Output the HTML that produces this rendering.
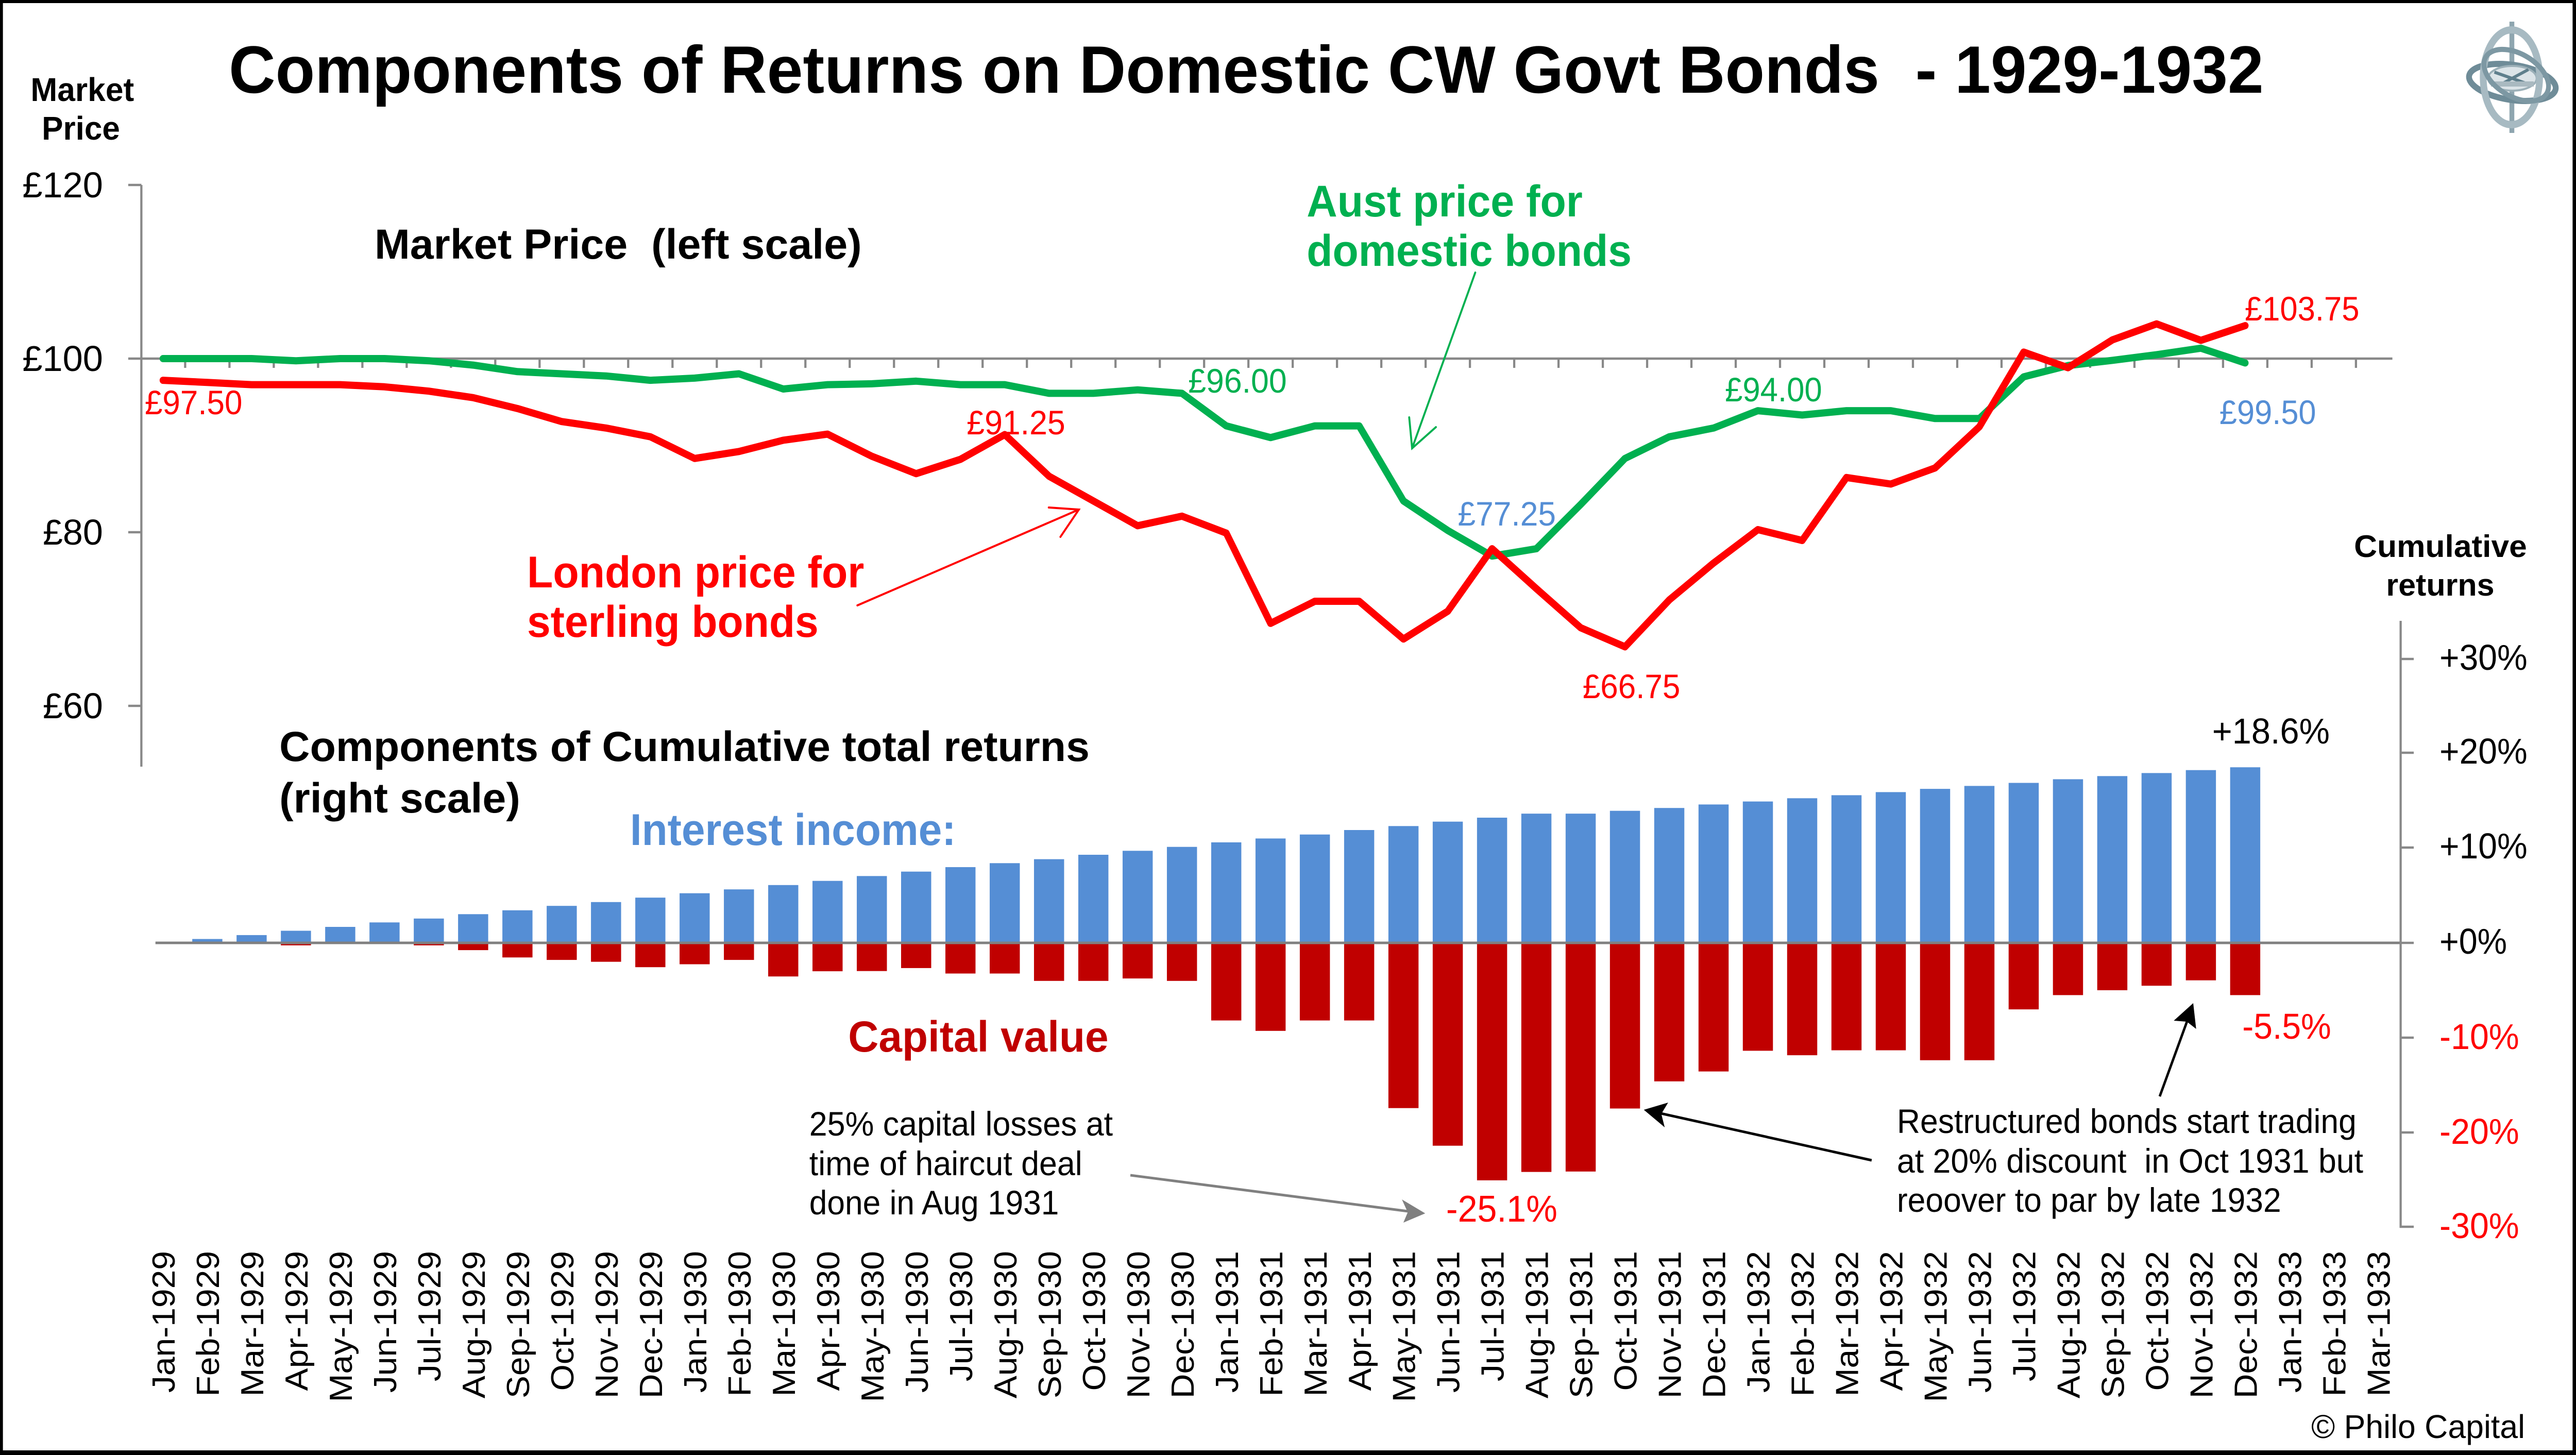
<!DOCTYPE html>
<html><head><meta charset="utf-8">
<style>
html,body{margin:0;padding:0;background:#fff;width:100%;height:100%;overflow:hidden;}
svg{display:block;width:100vw;height:100vh;}
text{font-family:"Liberation Sans",Arial,sans-serif;white-space:pre;}
.b{font-weight:bold;}
.xl{font-size:66px;fill:#000;}
</style></head>
<body>
<svg xmlns="http://www.w3.org/2000/svg" viewBox="0 0 5303 2824" preserveAspectRatio="none" xml:space="preserve">
<rect x="0" y="0" width="5303" height="2824" fill="#fff"/>

<!-- Title -->
<text x="471" y="180" class="b" font-size="130" textLength="4189" lengthAdjust="spacingAndGlyphs">Components of Returns on Domestic CW Govt Bonds  - 1929-1932</text>

<!-- Market Price top-left -->
<text x="63" y="196" class="b" font-size="64" textLength="213" lengthAdjust="spacingAndGlyphs">Market</text>
<text x="86" y="271" class="b" font-size="64" textLength="161" lengthAdjust="spacingAndGlyphs">Price</text>

<!-- Left axis -->
<line x1="291" y1="359" x2="291" y2="1488" stroke="#888" stroke-width="4.5"/>
<path d="M264 359H291M264 696H291M264 1033H291M264 1370H291" stroke="#888" stroke-width="4.5"/>
<text x="212" y="383" font-size="70" text-anchor="end" textLength="166" lengthAdjust="spacingAndGlyphs">£120</text>
<text x="212" y="720" font-size="70" text-anchor="end" textLength="166" lengthAdjust="spacingAndGlyphs">£100</text>
<text x="212" y="1057" font-size="70" text-anchor="end" textLength="124" lengthAdjust="spacingAndGlyphs">£80</text>
<text x="212" y="1394" font-size="70" text-anchor="end" textLength="124" lengthAdjust="spacingAndGlyphs">£60</text>

<!-- £100 axis line with ticks -->
<line x1="291" y1="696" x2="4925" y2="696" stroke="#888" stroke-width="4.5"/>
<path stroke="#888" stroke-width="4.5" d="M381.2 696v18M472.4 696v18M563.6 696v18M654.8 696v18M746 696v18M837.2 696v18M928.4 696v18M1019.6 696v18M1110.8 696v18M1202 696v18M1293.2 696v18M1384.4 696v18M1475.6 696v18M1566.8 696v18M1658 696v18M1749.2 696v18M1840.4 696v18M1931.6 696v18M2022.8 696v18M2114 696v18M2205.2 696v18M2296.4 696v18M2387.6 696v18M2478.8 696v18M2570 696v18M2661.2 696v18M2752.4 696v18M2843.6 696v18M2934.8 696v18M3026 696v18M3117.2 696v18M3208.4 696v18M3299.6 696v18M3390.8 696v18M3482 696v18M3573.2 696v18M3664.4 696v18M3755.6 696v18M3846.8 696v18M3938 696v18M4029.2 696v18M4120.4 696v18M4211.6 696v18M4302.8 696v18M4394 696v18M4485.2 696v18M4576.4 696v18M4667.6 696v18M4758.8 696v18M4850 696v18"/>

<!-- Labels upper -->
<text x="771" y="502" class="b" font-size="82" textLength="1003" lengthAdjust="spacingAndGlyphs">Market Price  (left scale)</text>
<text x="2690" y="420" class="b" font-size="86" fill="#00B050" textLength="568" lengthAdjust="spacingAndGlyphs">Aust price for</text>
<text x="2690" y="516" class="b" font-size="86" fill="#00B050" textLength="669" lengthAdjust="spacingAndGlyphs">domestic bonds</text>
<text x="1085" y="1140" class="b" font-size="86" fill="#FF0000" textLength="694" lengthAdjust="spacingAndGlyphs">London price for</text>
<text x="1085" y="1236" class="b" font-size="86" fill="#FF0000" textLength="600" lengthAdjust="spacingAndGlyphs">sterling bonds</text>

<!-- thin arrows -->
<g fill="none" stroke="#00B050" stroke-width="4" stroke-linecap="round">
<line x1="3037" y1="529" x2="2907" y2="870"/>
<polyline points="2901,810 2907,870 2956,829"/>
</g>
<g fill="none" stroke="#FF0000" stroke-width="4" stroke-linecap="round">
<line x1="1765" y1="1175" x2="2221" y2="989"/>
<polyline points="2159,985 2221,989 2183,1042"/>
</g>

<!-- Bars: blue -->
<g fill="#558ED5">
<rect x="395.8" y="1822.5" width="62" height="7.5"/>
<rect x="487" y="1814.9" width="62" height="15.1"/>
<rect x="578.2" y="1806.5" width="62" height="23.5"/>
<rect x="669.4" y="1799" width="62" height="31"/>
<rect x="760.6" y="1790.3" width="62" height="39.7"/>
<rect x="851.8" y="1782.8" width="62" height="47.2"/>
<rect x="943" y="1774.3" width="62" height="55.7"/>
<rect x="1034.2" y="1766.8" width="62" height="63.2"/>
<rect x="1125.4" y="1758.2" width="62" height="71.8"/>
<rect x="1216.6" y="1750.8" width="62" height="79.2"/>
<rect x="1307.8" y="1742.2" width="62" height="87.8"/>
<rect x="1399" y="1733.7" width="62" height="96.3"/>
<rect x="1490.2" y="1726.2" width="62" height="103.8"/>
<rect x="1581.4" y="1717.8" width="62" height="112.2"/>
<rect x="1672.6" y="1709.7" width="62" height="120.3"/>
<rect x="1763.8" y="1700.3" width="62" height="129.7"/>
<rect x="1855" y="1691.7" width="62" height="138.3"/>
<rect x="1946.2" y="1683" width="62" height="147"/>
<rect x="2037.4" y="1675.3" width="62" height="154.7"/>
<rect x="2128.6" y="1667.6" width="62" height="162.4"/>
<rect x="2219.8" y="1659" width="62" height="171"/>
<rect x="2311" y="1651.3" width="62" height="178.7"/>
<rect x="2402.2" y="1643.7" width="62" height="186.3"/>
<rect x="2493.4" y="1634.9" width="62" height="195.1"/>
<rect x="2584.6" y="1627.4" width="62" height="202.6"/>
<rect x="2675.8" y="1619.7" width="62" height="210.3"/>
<rect x="2767" y="1611" width="62" height="219"/>
<rect x="2858.2" y="1603.3" width="62" height="226.7"/>
<rect x="2949.4" y="1594.7" width="62" height="235.3"/>
<rect x="3040.6" y="1587" width="62" height="243"/>
<rect x="3131.8" y="1579.2" width="62" height="250.8"/>
<rect x="3223" y="1579.2" width="62" height="250.8"/>
<rect x="3314.2" y="1573.7" width="62" height="256.3"/>
<rect x="3405.4" y="1568.2" width="62" height="261.8"/>
<rect x="3496.6" y="1561.4" width="62" height="268.6"/>
<rect x="3587.8" y="1555.6" width="62" height="274.4"/>
<rect x="3679" y="1549.3" width="62" height="280.7"/>
<rect x="3770.2" y="1543.4" width="62" height="286.6"/>
<rect x="3861.4" y="1537.4" width="62" height="292.6"/>
<rect x="3952.6" y="1531.1" width="62" height="298.9"/>
<rect x="4043.8" y="1525.4" width="62" height="304.6"/>
<rect x="4135" y="1519.5" width="62" height="310.5"/>
<rect x="4226.2" y="1512.4" width="62" height="317.6"/>
<rect x="4317.4" y="1506.3" width="62" height="323.7"/>
<rect x="4408.6" y="1500.4" width="62" height="329.6"/>
<rect x="4499.8" y="1494.7" width="62" height="335.3"/>
<rect x="4591" y="1489.2" width="62" height="340.8"/>
</g>
<!-- Bars: red -->
<g fill="#C00000">
<rect x="578.2" y="1830" width="62" height="4.8"/>
<rect x="851.8" y="1830" width="62" height="4.8"/>
<rect x="943" y="1830" width="62" height="14.1"/>
<rect x="1034.2" y="1830" width="62" height="28.3"/>
<rect x="1125.4" y="1830" width="62" height="33.1"/>
<rect x="1216.6" y="1830" width="62" height="36.7"/>
<rect x="1307.8" y="1830" width="62" height="47.2"/>
<rect x="1399" y="1830" width="62" height="41.5"/>
<rect x="1490.2" y="1830" width="62" height="33.1"/>
<rect x="1581.4" y="1830" width="62" height="65.2"/>
<rect x="1672.6" y="1830" width="62" height="55.1"/>
<rect x="1763.8" y="1830" width="62" height="54.7"/>
<rect x="1855" y="1830" width="62" height="48.9"/>
<rect x="1946.2" y="1830" width="62" height="59.5"/>
<rect x="2037.4" y="1830" width="62" height="59.5"/>
<rect x="2128.6" y="1830" width="62" height="73.8"/>
<rect x="2219.8" y="1830" width="62" height="73.8"/>
<rect x="2311" y="1830" width="62" height="69.1"/>
<rect x="2402.2" y="1830" width="62" height="73.8"/>
<rect x="2493.4" y="1830" width="62" height="150.6"/>
<rect x="2584.6" y="1830" width="62" height="170.8"/>
<rect x="2675.8" y="1830" width="62" height="150.6"/>
<rect x="2767" y="1830" width="62" height="150.6"/>
<rect x="2858.2" y="1830" width="62" height="320.7"/>
<rect x="2949.4" y="1830" width="62" height="393.7"/>
<rect x="3040.6" y="1830" width="62" height="460.9"/>
<rect x="3131.8" y="1830" width="62" height="444.6"/>
<rect x="3223" y="1830" width="62" height="443.8"/>
<rect x="3314.2" y="1830" width="62" height="321.5"/>
<rect x="3405.4" y="1830" width="62" height="268.8"/>
<rect x="3496.6" y="1830" width="62" height="249.6"/>
<rect x="3587.8" y="1830" width="62" height="209.4"/>
<rect x="3679" y="1830" width="62" height="218.1"/>
<rect x="3770.2" y="1830" width="62" height="208.5"/>
<rect x="3861.4" y="1830" width="62" height="208.5"/>
<rect x="3952.6" y="1830" width="62" height="227.8"/>
<rect x="4043.8" y="1830" width="62" height="227.8"/>
<rect x="4135" y="1830" width="62" height="129.1"/>
<rect x="4226.2" y="1830" width="62" height="101.4"/>
<rect x="4317.4" y="1830" width="62" height="91.9"/>
<rect x="4408.6" y="1830" width="62" height="83.2"/>
<rect x="4499.8" y="1830" width="62" height="72.7"/>
<rect x="4591" y="1830" width="62" height="101.4"/>
</g>

<!-- zero line -->
<line x1="320" y1="1830" x2="4942" y2="1830" stroke="#808080" stroke-width="5"/>

<!-- Right axis -->
<line x1="4942" y1="1205" x2="4942" y2="2383" stroke="#888" stroke-width="4.5"/>
<path d="M4942 1279H4969M4942 1461H4969M4942 1645H4969M4942 1830H4969M4942 2014H4969M4942 2198H4969M4940 2381H4969" stroke="#888" stroke-width="4.5"/>
<text x="5022" y="1300" font-size="70" textLength="181" lengthAdjust="spacingAndGlyphs">+30%</text>
<text x="5022" y="1482" font-size="70" textLength="181" lengthAdjust="spacingAndGlyphs">+20%</text>
<text x="5022" y="1666" font-size="70" textLength="181" lengthAdjust="spacingAndGlyphs">+10%</text>
<text x="5022" y="1851" font-size="70" textLength="139" lengthAdjust="spacingAndGlyphs">+0%</text>
<text x="5022" y="2036" font-size="70" fill="#FF0000" textLength="164" lengthAdjust="spacingAndGlyphs">-10%</text>
<text x="5022" y="2220" font-size="70" fill="#FF0000" textLength="164" lengthAdjust="spacingAndGlyphs">-20%</text>
<text x="5022" y="2403" font-size="70" fill="#FF0000" textLength="164" lengthAdjust="spacingAndGlyphs">-30%</text>
<text x="4846" y="1081" class="b" font-size="60" textLength="356" lengthAdjust="spacingAndGlyphs">Cumulative</text>
<text x="4912" y="1156" class="b" font-size="60" textLength="223" lengthAdjust="spacingAndGlyphs">returns</text>

<!-- Lines -->
<polyline fill="none" stroke="#00B050" stroke-width="14" stroke-linejoin="round" stroke-linecap="round" points="335.6,696 426.8,696 518,696 609.2,700.2 700.4,696 791.6,696 882.8,700.2 974,708.6 1065.2,721.3 1156.4,725.5 1247.6,729.7 1338.8,738.1 1430,733.9 1521.2,725.5 1612.4,755 1703.6,746.6 1794.8,744.9 1886,739.8 1977.2,746.6 2068.4,746.6 2159.6,763.4 2250.8,763.4 2342,756.7 2433.2,763.4 2524.4,826.6 2615.6,849.3 2706.8,826.6 2798,826.6 2889.2,972.3 2980.4,1029.6 3071.6,1079.3 3162.8,1065 3254,979.1 3345.2,889.8 3436.4,847.7 3527.6,830.8 3618.8,797.1 3710,805.5 3801.2,797.1 3892.4,797.1 3983.6,812.3 4074.8,812.3 4166,731.4 4257.2,709.5 4348.4,699.4 4439.6,688.4 4530.8,675.8 4622,704.4"/>
<polyline fill="none" stroke="#FF0000" stroke-width="14" stroke-linejoin="round" stroke-linecap="round" points="335.6,738.1 426.8,742.3 518,746.6 609.2,746.6 700.4,746.6 791.6,750.8 882.8,759.2 974,771.8 1065.2,792.9 1156.4,818.2 1247.6,830.8 1338.8,847.7 1430,889.8 1521.2,876.3 1612.4,854.4 1703.6,842.6 1794.8,885.6 1886,919.3 1977.2,891.5 2068.4,843.4 2159.6,924.3 2250.8,972.3 2342,1020.4 2433.2,1001.8 2524.4,1034.7 2615.6,1209.9 2706.8,1167 2798,1167 2889.2,1240.3 2980.4,1186.3 3071.6,1065 3162.8,1142.5 3254,1218.4 3345.2,1255.4 3436.4,1164.4 3527.6,1092.8 3618.8,1027.9 3710,1049 3801.2,926.8 3892.4,939.5 3983.6,908.3 4074.8,828.3 4166,683.4 4257.2,713.7 4348.4,659.8 4439.6,628.6 4530.8,660.6 4622,632"/>

<!-- Data labels -->
<text x="298" y="804" font-size="66" fill="#FF0000" textLength="201" lengthAdjust="spacingAndGlyphs">£97.50</text>
<text x="1990" y="843" font-size="66" fill="#FF0000" textLength="203" lengthAdjust="spacingAndGlyphs">£91.25</text>
<text x="2446" y="762" font-size="66" fill="#00B050" textLength="203" lengthAdjust="spacingAndGlyphs">£96.00</text>
<text x="3001" y="1020" font-size="66" fill="#558ED5" textLength="202" lengthAdjust="spacingAndGlyphs">£77.25</text>
<text x="3551" y="779" font-size="66" fill="#00B050" textLength="200" lengthAdjust="spacingAndGlyphs">£94.00</text>
<text x="3258" y="1355" font-size="66" fill="#FF0000" textLength="201" lengthAdjust="spacingAndGlyphs">£66.75</text>
<text x="4621" y="622" font-size="66" fill="#FF0000" textLength="236" lengthAdjust="spacingAndGlyphs">£103.75</text>
<text x="4569" y="823" font-size="66" fill="#558ED5" textLength="199" lengthAdjust="spacingAndGlyphs">£99.50</text>

<!-- Lower labels -->
<text x="575" y="1477" class="b" font-size="82" textLength="1668" lengthAdjust="spacingAndGlyphs">Components of Cumulative total returns</text>
<text x="575" y="1577" class="b" font-size="82" textLength="496" lengthAdjust="spacingAndGlyphs">(right scale)</text>
<text x="1297" y="1640" class="b" font-size="86" fill="#558ED5" textLength="671" lengthAdjust="spacingAndGlyphs">Interest income:</text>
<text x="1746" y="2041" class="b" font-size="84" fill="#C00000" textLength="536" lengthAdjust="spacingAndGlyphs">Capital value</text>
<text x="4554" y="1443" font-size="70" textLength="242" lengthAdjust="spacingAndGlyphs">+18.6%</text>
<text x="4616" y="2016" font-size="70" fill="#FF0000" textLength="183" lengthAdjust="spacingAndGlyphs">-5.5%</text>
<text x="2977" y="2371" font-size="72" fill="#FF0000" textLength="229" lengthAdjust="spacingAndGlyphs">-25.1%</text>

<text x="1666" y="2204" font-size="66" textLength="625" lengthAdjust="spacingAndGlyphs">25% capital losses at</text>
<text x="1666" y="2281" font-size="66" textLength="562" lengthAdjust="spacingAndGlyphs">time of haircut deal</text>
<text x="1666" y="2357" font-size="66" textLength="514" lengthAdjust="spacingAndGlyphs">done in Aug 1931</text>

<text x="3905" y="2199" font-size="66" textLength="946" lengthAdjust="spacingAndGlyphs">Restructured bonds start trading</text>
<text x="3905" y="2276" font-size="66" textLength="960" lengthAdjust="spacingAndGlyphs">at 20% discount  in Oct 1931 but</text>
<text x="3905" y="2352" font-size="66" textLength="791" lengthAdjust="spacingAndGlyphs">reoover to par by late 1932</text>

<!-- annotation arrows -->
<line x1="2327" y1="2281" x2="2915" y2="2353" stroke="#808080" stroke-width="5"/>
<polygon points="2934,2355 2886,2328 2898,2353 2889,2373" fill="#808080"/>
<line x1="3853" y1="2252" x2="3405" y2="2158" stroke="#000" stroke-width="5"/>
<polygon points="3384,2154 3434,2140 3420,2162 3427,2188" fill="#000"/>
<line x1="4446" y1="2128" x2="4509" y2="1965" stroke="#000" stroke-width="5"/>
<polygon points="4515,1947 4521,1997 4502,1983 4475,1981" fill="#000"/>

<!-- X labels -->
<g class="xl" text-anchor="end">
<text transform="translate(359.6,2428) rotate(-90)">Jan-1929</text>
<text transform="translate(450.8,2428) rotate(-90)">Feb-1929</text>
<text transform="translate(542,2428) rotate(-90)">Mar-1929</text>
<text transform="translate(633.2,2428) rotate(-90)">Apr-1929</text>
<text transform="translate(724.4,2428) rotate(-90)">May-1929</text>
<text transform="translate(815.6,2428) rotate(-90)">Jun-1929</text>
<text transform="translate(906.8,2428) rotate(-90)">Jul-1929</text>
<text transform="translate(998,2428) rotate(-90)">Aug-1929</text>
<text transform="translate(1089.2,2428) rotate(-90)">Sep-1929</text>
<text transform="translate(1180.4,2428) rotate(-90)">Oct-1929</text>
<text transform="translate(1271.6,2428) rotate(-90)">Nov-1929</text>
<text transform="translate(1362.8,2428) rotate(-90)">Dec-1929</text>
<text transform="translate(1454,2428) rotate(-90)">Jan-1930</text>
<text transform="translate(1545.2,2428) rotate(-90)">Feb-1930</text>
<text transform="translate(1636.4,2428) rotate(-90)">Mar-1930</text>
<text transform="translate(1727.6,2428) rotate(-90)">Apr-1930</text>
<text transform="translate(1818.8,2428) rotate(-90)">May-1930</text>
<text transform="translate(1910,2428) rotate(-90)">Jun-1930</text>
<text transform="translate(2001.2,2428) rotate(-90)">Jul-1930</text>
<text transform="translate(2092.4,2428) rotate(-90)">Aug-1930</text>
<text transform="translate(2183.6,2428) rotate(-90)">Sep-1930</text>
<text transform="translate(2274.8,2428) rotate(-90)">Oct-1930</text>
<text transform="translate(2366,2428) rotate(-90)">Nov-1930</text>
<text transform="translate(2457.2,2428) rotate(-90)">Dec-1930</text>
<text transform="translate(2548.4,2428) rotate(-90)">Jan-1931</text>
<text transform="translate(2639.6,2428) rotate(-90)">Feb-1931</text>
<text transform="translate(2730.8,2428) rotate(-90)">Mar-1931</text>
<text transform="translate(2822,2428) rotate(-90)">Apr-1931</text>
<text transform="translate(2913.2,2428) rotate(-90)">May-1931</text>
<text transform="translate(3004.4,2428) rotate(-90)">Jun-1931</text>
<text transform="translate(3095.6,2428) rotate(-90)">Jul-1931</text>
<text transform="translate(3186.8,2428) rotate(-90)">Aug-1931</text>
<text transform="translate(3278,2428) rotate(-90)">Sep-1931</text>
<text transform="translate(3369.2,2428) rotate(-90)">Oct-1931</text>
<text transform="translate(3460.4,2428) rotate(-90)">Nov-1931</text>
<text transform="translate(3551.6,2428) rotate(-90)">Dec-1931</text>
<text transform="translate(3642.8,2428) rotate(-90)">Jan-1932</text>
<text transform="translate(3734,2428) rotate(-90)">Feb-1932</text>
<text transform="translate(3825.2,2428) rotate(-90)">Mar-1932</text>
<text transform="translate(3916.4,2428) rotate(-90)">Apr-1932</text>
<text transform="translate(4007.6,2428) rotate(-90)">May-1932</text>
<text transform="translate(4098.8,2428) rotate(-90)">Jun-1932</text>
<text transform="translate(4190,2428) rotate(-90)">Jul-1932</text>
<text transform="translate(4281.2,2428) rotate(-90)">Aug-1932</text>
<text transform="translate(4372.4,2428) rotate(-90)">Sep-1932</text>
<text transform="translate(4463.6,2428) rotate(-90)">Oct-1932</text>
<text transform="translate(4554.8,2428) rotate(-90)">Nov-1932</text>
<text transform="translate(4646,2428) rotate(-90)">Dec-1932</text>
<text transform="translate(4737.2,2428) rotate(-90)">Jan-1933</text>
<text transform="translate(4828.4,2428) rotate(-90)">Feb-1933</text>
<text transform="translate(4919.6,2428) rotate(-90)">Mar-1933</text>
</g>

<text x="4758" y="2791" font-size="64" textLength="440" lengthAdjust="spacingAndGlyphs">© Philo Capital</text>

<!-- Logo -->
<g>
<rect x="5166" y="42" width="10" height="216" fill="#8ea5af"/>
<ellipse cx="5172" cy="160" rx="90" ry="34" transform="rotate(8 5172 160)" fill="none" stroke="#6f8c98" stroke-width="12"/>
<ellipse cx="5172" cy="152" rx="50" ry="24" fill="#dce4e8" stroke="#9cb0b8" stroke-width="4"/>
<path d="M5135 140L5210 165M5205 135L5140 168" stroke="#5f7f8c" stroke-width="6"/>
<rect x="5128" y="158" width="88" height="10" fill="#a9b9c0"/>
<ellipse cx="5170" cy="150" rx="58" ry="92" fill="none" stroke="#a7bac2" stroke-width="14"/>
<ellipse cx="5180" cy="146" rx="72" ry="42" transform="rotate(28 5180 146)" fill="none" stroke="#7d98a3" stroke-width="10"/>
</g>

<!-- Frame -->
<rect x="0" y="0" width="5303" height="6" fill="#000"/>
<rect x="0" y="0" width="6" height="2824" fill="#000"/>
<rect x="0" y="2815" width="5303" height="9" fill="#000"/>
<rect x="5296" y="0" width="7" height="2824" fill="#000"/>
</svg>
</body></html>
